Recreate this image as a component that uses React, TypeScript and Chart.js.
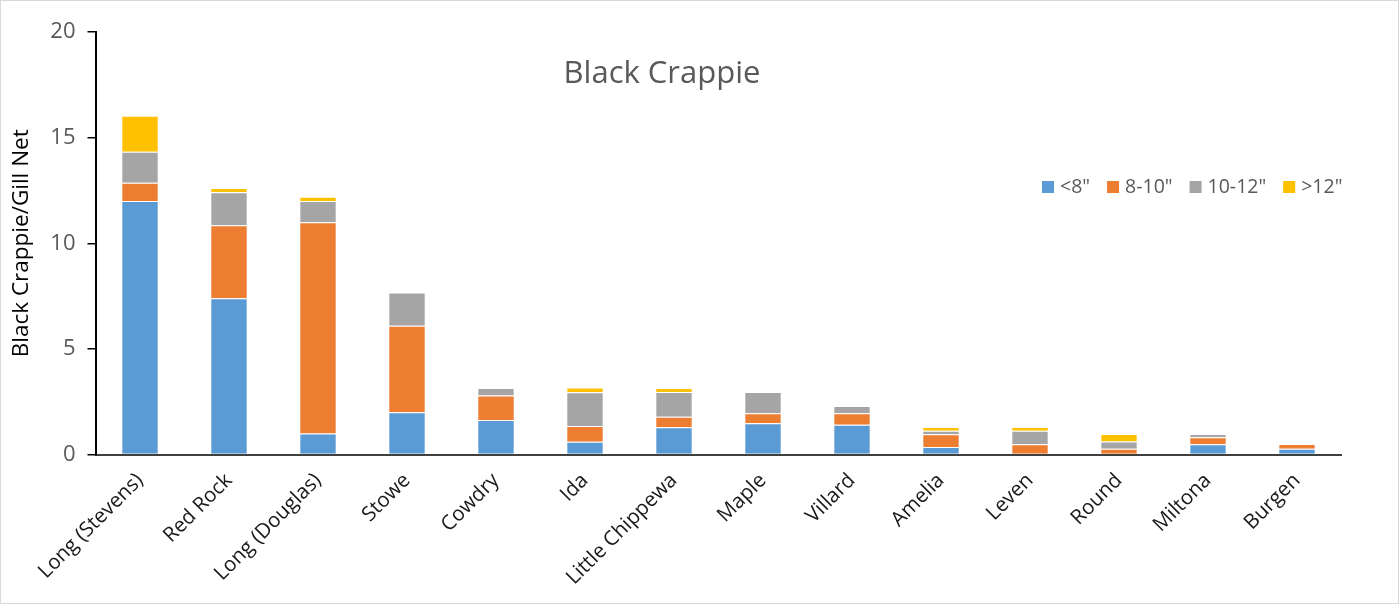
import React, { useEffect, useRef } from "react";
import { Chart, registerables } from "chart.js";

Chart.register(...registerables);

const categories = ["Long (Stevens)", "Red Rock", "Long (Douglas)", "Stowe", "Cowdry", "Ida", "Little Chippewa", "Maple", "Villard", "Amelia", "Leven", "Round", "Miltona", "Burgen"];
const under8 = [12.0, 7.4, 1.0, 2.0, 1.63, 0.6, 1.29, 1.48, 1.41, 0.36, 0, 0, 0.48, 0.27];
const from8to10 = [0.86, 3.45, 10.0, 4.1, 1.16, 0.75, 0.5, 0.47, 0.54, 0.6, 0.48, 0.27, 0.34, 0.23];
const from10to12 = [1.47, 1.57, 1.0, 1.57, 0.36, 1.6, 1.17, 1.01, 0.35, 0.17, 0.65, 0.34, 0.15, 0];
const over12 = [1.7, 0.2, 0.2, 0, 0, 0.22, 0.19, 0, 0, 0.17, 0.17, 0.36, 0, 0];
const seriesNames = ['<8"', '8-10"', '10-12"', '>12"'];
const seriesColors = ["#5B9BD5", "#ED7D31", "#A5A5A5", "#FFC000"];
const yTicks = [0, 5, 10, 15, 20];
const chartTitle = "Black Crappie";
const yTitle = "Black Crappie/Gill Net";

const FONT = "'Open Sans', 'Noto Sans', sans-serif";

const overlayPlugin = {
  id: "overlay",
  afterDraw(chart: any) {
    const ctx = chart.ctx;
    ctx.save();
    ctx.fillStyle = "#595959";
    ctx.font = `31px ${FONT}`;
    ctx.textAlign = "center";
    ctx.textBaseline = "middle";
    ctx.fillText(chartTitle, 661, 73);
    // legend
    ctx.font = `19.5px ${FONT}`;
    ctx.textAlign = "left";
    let x = 1041;
    const y = 186;
    seriesNames.forEach((name, i) => {
      ctx.fillStyle = seriesColors[i];
      ctx.fillRect(x, y - 6, 12, 12);
      ctx.fillStyle = "#595959";
      ctx.fillText(name, x + 18, y);
      x += 18 + ctx.measureText(name).width + 17;
    });
    ctx.restore();
  },
};

export default function App() {
  const ref = useRef<HTMLCanvasElement>(null);
  useEffect(() => {
    document.body.style.margin = "0";
    const datasets = [under8, from8to10, from10to12, over12].map((d, i) => ({
      label: seriesNames[i],
      data: d,
      backgroundColor: seriesColors[i],
      borderColor: "rgba(255,255,255,0.55)",
      borderWidth: 1,
      barPercentage: 1,
      categoryPercentage: 0.42,
    }));
    const chart = new Chart(ref.current!, {
      type: "bar",
      data: { labels: categories, datasets },
      plugins: [overlayPlugin],
      options: {
        animation: false,
        responsive: false,
        layout: { padding: { top: 31, right: 56.5, left: 0, bottom: 0 } },
        plugins: { legend: { display: false }, tooltip: { enabled: false }, title: { display: false } },
        scales: {
          x: {
            stacked: true,
            grid: { display: false },
            border: { color: "#404040", width: 2 },
            ticks: {
              color: "#1a1a1a",
              font: { family: FONT, size: 20.5 },
              minRotation: 45,
              maxRotation: 45,
              padding: 6,
            },
            afterFit(scale: any) {
              scale.height = 148.5;
            },
          },
          y: {
            stacked: true,
            min: 0,
            max: 20,
            afterBuildTicks(scale: any) {
              scale.ticks = yTicks.map((v) => ({ value: v }));
            },
            grid: { display: true, drawOnChartArea: false, drawTicks: true, tickLength: 8, color: "#000000", lineWidth: 1.5 },
            border: { color: "#000000", width: 2 },
            ticks: { color: "#595959", font: { family: FONT, size: 22 }, padding: 12 },
            title: { display: true, text: yTitle, color: "#000000", font: { family: FONT, size: 22.5 }, padding: { top: 7, bottom: 2 } },
            afterFit(scale: any) {
              scale.width = 94.5;
            },
          },
        },
      },
    });
    return () => chart.destroy();
  }, []);
  return (
    <div style={{ width: 1399, height: 604, boxSizing: "border-box", border: "1px solid #d9d9d9", background: "#fff" }}>
      <canvas ref={ref} width={1397} height={602} style={{ display: "block", width: 1397, height: 602 }} />
    </div>
  );
}
